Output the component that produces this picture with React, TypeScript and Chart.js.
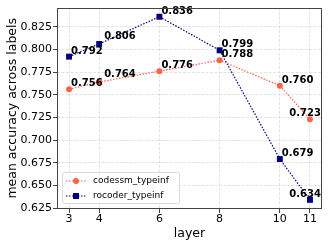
import React, { useEffect, useRef } from "react";
import { Chart, registerables } from "chart.js";

Chart.register(...registerables);

const layers = [3, 4, 6, 8, 10, 11];
const codessm = [0.756, 0.764, 0.776, 0.788, 0.76, 0.723];
const rocoder = [0.792, 0.806, 0.836, 0.799, 0.679, 0.634];
const yTicks = [0.625, 0.65, 0.675, 0.7, 0.725, 0.75, 0.775, 0.8, 0.825];
const seriesNames = ["codessm_typeinf", "rocoder_typeinf"];

const FONT = "'DejaVu Sans', sans-serif";
const C1 = "#ff6347";
const C2 = "#000080";

const labelPlugin = {
  id: "valueLabels",
  afterDatasetsDraw(chart: any) {
    const ctx = chart.ctx;
    ctx.save();
    ctx.font = `bold 10px ${FONT}`;
    ctx.fillStyle = "#000";
    ctx.textBaseline = "alphabetic";
    chart.data.datasets.forEach((ds: any, i: number) => {
      const meta = chart.getDatasetMeta(i);
      meta.data.forEach((pt: any, j: number) => {
        const v = ds.data[j].y;
        const txt = v.toFixed(3);
        const last = j === ds.data.length - 1;
        let dx = 2, dy = -3;
        if (ds.data[j].x === 4) { dx = 5; dy = -5; }
        if (last) {
          ctx.textAlign = "right";
          ctx.fillText(txt, pt.x + 11, pt.y + dy);
        } else {
          ctx.textAlign = "left";
          ctx.fillText(txt, pt.x + dx, pt.y + dy);
        }
      });
    });
    ctx.restore();
  },
};

const framePlugin = {
  id: "frameLegend",
  afterDraw(chart: any) {
    const ctx = chart.ctx;
    const a = chart.chartArea;
    ctx.save();
    ctx.strokeStyle = "#444";
    ctx.lineWidth = 1;
    ctx.setLineDash([]);
    ctx.strokeRect(Math.round(a.left) + 0.5, Math.round(a.top) + 0.5, Math.round(a.right - a.left) - 1, Math.round(a.bottom - a.top) - 1);

    // legend
    const bx = 62, by = 172, bw = 117, bh = 31;
    ctx.fillStyle = "rgba(255,255,255,0.85)";
    ctx.strokeStyle = "#d8d8d8";
    ctx.beginPath();
    (ctx as any).roundRect(bx + 0.5, by + 0.5, bw, bh, 2);
    ctx.fill();
    ctx.stroke();
    const rows = [
      { y: 181, color: C1, style: "circle" },
      { y: 196, color: C2, style: "rect" },
    ];
    rows.forEach((r, i) => {
      ctx.strokeStyle = r.color;
      ctx.lineWidth = 1.2;
      ctx.setLineDash([1.5, 1.5]);
      ctx.beginPath();
      ctx.moveTo(66, r.y);
      ctx.lineTo(87, r.y);
      ctx.stroke();
      ctx.setLineDash([]);
      ctx.fillStyle = r.color;
      if (r.style === "circle") {
        ctx.beginPath();
        ctx.arc(76, r.y, 3, 0, Math.PI * 2);
        ctx.fill();
      } else {
        ctx.fillRect(73, r.y - 3, 6, 6);
      }
      ctx.fillStyle = "#000";
      ctx.font = `9px ${FONT}`;
      ctx.textAlign = "left";
      ctx.textBaseline = "middle";
      ctx.fillText(seriesNames[i], 93, r.y);
    });
    ctx.restore();
  },
};

export default function App() {
  const ref = useRef<HTMLCanvasElement>(null);
  useEffect(() => {
    if (!ref.current) return;
    const chart = new Chart(ref.current, {
      type: "line",
      data: {
        datasets: [
          {
            label: seriesNames[0],
            data: layers.map((x, i) => ({ x, y: codessm[i] })),
            borderColor: C1,
            backgroundColor: C1,
            borderWidth: 1.2,
            borderDash: [1.5, 1.5],
            pointStyle: "circle",
            pointRadius: 3,
            pointBorderWidth: 0,
            fill: false,
            tension: 0,
          },
          {
            label: seriesNames[1],
            data: layers.map((x, i) => ({ x, y: rocoder[i] })),
            borderColor: C2,
            backgroundColor: C2,
            borderWidth: 1.2,
            borderDash: [1.5, 1.5],
            pointStyle: "rect",
            pointRadius: 4.2,
            pointBorderWidth: 0,
            fill: false,
            tension: 0,
          },
        ],
      },
      options: {
        responsive: false,
        animation: false,
        clip: false as any,
        layout: { padding: { top: 6, right: 7, left: 0, bottom: 0 } },
        plugins: { legend: { display: false }, tooltip: { enabled: false } },
        scales: {
          x: {
            type: "linear",
            min: 2.6,
            max: 11.4,
            afterBuildTicks: (s: any) => {
              s.ticks = layers.map((v) => ({ value: v }));
            },
            afterFit: (s: any) => {
              s.height = 38;
            },
            ticks: {
              font: { family: FONT, size: 11 },
              color: "#000",
              padding: 0,
              maxRotation: 0,
              autoSkip: false,
              callback: (v: any) => String(v),
            },
            grid: {
              color: "#e2e2e2",
              tickColor: "#444",
              tickLength: 4,
              tickBorderDash: [],
              drawTicks: true,
            } as any,
            border: { display: false, dash: [3, 1.5] } as any,
            title: {
              display: true,
              text: "layer",
              font: { family: FONT, size: 12.5 },
              color: "#000",
              padding: { top: 0, bottom: 6 },
            },
          },
          y: {
            type: "linear",
            min: 0.6239,
            max: 0.8461,
            afterBuildTicks: (s: any) => {
              s.ticks = yTicks.map((v) => ({ value: v }));
            },
            afterFit: (s: any) => {
              s.width = 57;
            },
            ticks: {
              font: { family: FONT, size: 11 },
              color: "#000",
              padding: 1,
              autoSkip: false,
              callback: (v: any) => Number(v).toFixed(3),
            },
            grid: {
              color: "#e2e2e2",
              tickColor: "#444",
              tickLength: 4,
              tickBorderDash: [],
            } as any,
            border: { display: false, dash: [3, 1.5] } as any,
            title: {
              display: true,
              text: "mean accuracy across labels",
              font: { family: FONT, size: 12.5 },
              color: "#000",
              padding: { top: 5, bottom: 0 },
            },
          },
        },
      } as any,
      plugins: [labelPlugin, framePlugin],
    });
    return () => chart.destroy();
  }, []);
  return (
    <div style={{ position: "absolute", left: 0, top: 0, width: 329, height: 247, background: "#fff" }}>
      <canvas ref={ref} width={329} height={247} />
    </div>
  );
}
